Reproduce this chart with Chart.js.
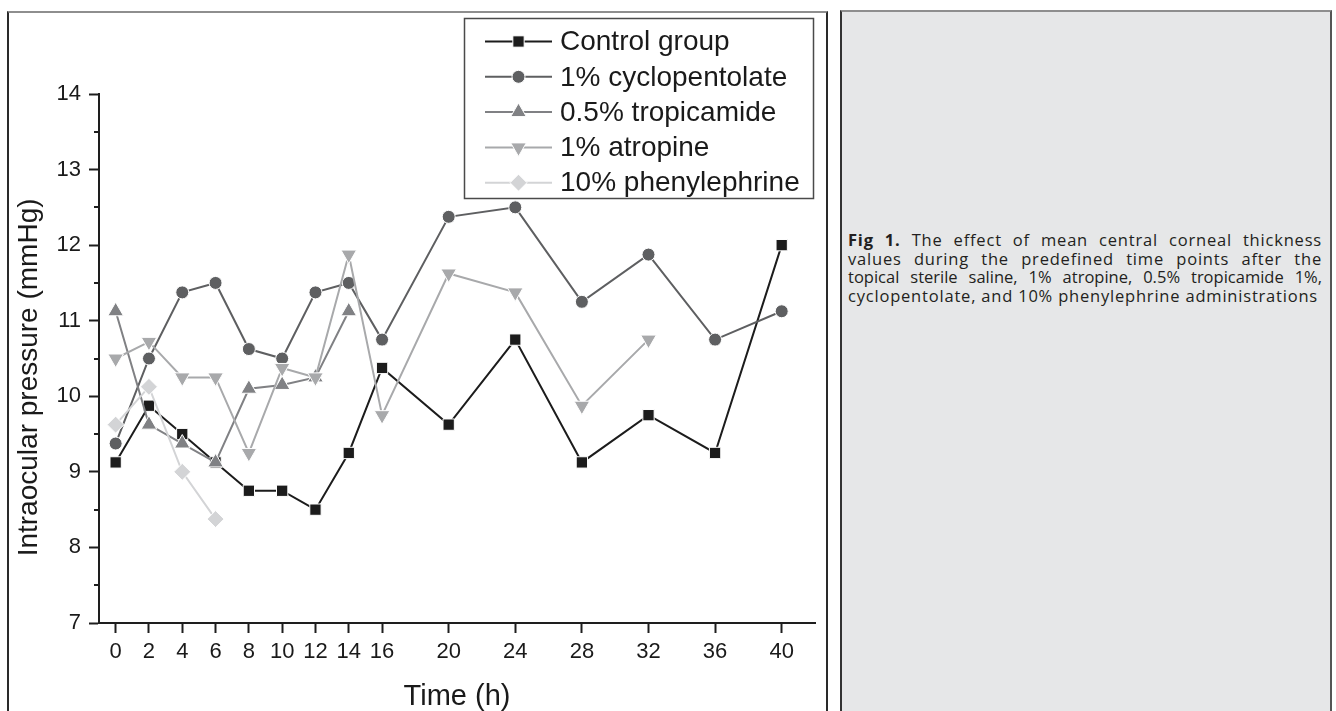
<!DOCTYPE html>
<html lang="en">

<head>
    <meta charset="UTF-8">
    <title>Intraocular pressure over time</title>
    <script src="https://cdn.jsdelivr.net/npm/chart.js"></script>
    <style>
        html, body {
            margin: 0;
            padding: 0;
            width: 1336px;
            height: 711px;
            overflow: hidden;
            background: #ffffff;
        }

        #plot-frame {
            position: absolute;
            left: 7px;
            top: 11px;
            width: 821px;
            height: 730px;
            box-sizing: border-box;
            border-left: 2px solid #2a2a2a;
            border-right: 2px solid #2a2a2a;
            border-top: 2px solid #8e8e8e;
        }

        #iopChart {
            position: absolute;
            left: 9px;
            top: 13px;
        }

        #caption-panel {
            position: absolute;
            left: 840px;
            top: 10px;
            width: 492px;
            height: 730px;
            box-sizing: border-box;
            background: #e6e7e8;
            border-left: 2px solid #333333;
            border-right: 2px solid #555555;
            border-top: 2px solid #8e8e8e;
        }

        .caption {
            position: absolute;
            left: 6px;
            top: 219px;
            width: 474px;
            font-family: "Open Sans", "Noto Sans", sans-serif;
            font-size: 16.5px;
            letter-spacing: 0.8px;
            line-height: 18.5px;
            color: #231f20;
        }

        .caption .j {
            text-align: justify;
            text-align-last: justify;
        }

        .caption div {
            white-space: nowrap;
        }
    </style>
</head>

<body>

    <div id="plot-frame"></div>
    <canvas id="iopChart" width="816" height="710"></canvas>

    <div id="caption-panel">
        <div class="caption">
            <div class="j"><b>Fig 1.</b> The effect of mean central corneal thickness</div>
            <div class="j">values during the predefined time points after the</div>
            <div class="j" style="letter-spacing:0">topical sterile saline, 1% atropine, 0.5% tropicamide 1%,</div>
            <div>cyclopentolate, and 10% phenylephrine administrations</div>
        </div>
    </div>

    <script>
        // time points (h), also used as the x tick values
        const hours = [0, 2, 4, 6, 8, 10, 12, 14, 16, 20, 24, 28, 32, 36, 40];
        const yMinorTicks = [7.5, 8.5, 9.5, 10.5, 11.5, 12.5, 13.5];

        const seriesNames = ['Control group', '1% cyclopentolate', '0.5% tropicamide', '1% atropine', '10% phenylephrine'];

        const control = [9.125, 9.875, 9.5, 9.125, 8.75, 8.75, 8.5, 9.25, 10.375, 9.625, 10.75, 9.125, 9.75, 9.25, 12.0];
        const cyclopentolate = [9.375, 10.5, 11.375, 11.5, 10.625, 10.5, 11.375, 11.5, 10.75, 12.375, 12.5, 11.25, 11.875, 10.75, 11.125];
        const tropicamide = [11.125, 9.625, 9.375, 9.125, 10.1, 10.15, 10.25, 11.125];
        const atropine = [10.5, 10.72, 10.25, 10.25, 9.25, 10.375, 10.25, 11.875, 9.75, 11.625, 11.375, 9.875, 10.75];
        const phenylephrine = [9.625, 10.125, 9.0, 8.375];

        const axisColor = '#1e1e1e';
        const font = '"Liberation Sans", Arial, sans-serif';
        const yTitle = 'Intraocular pressure (mmHg)';

        const styles = [
            { color: '#1c1c1c', pointStyle: 'rect', radius: 8, rotation: 0 },
            { color: '#5e5f61', pointStyle: 'circle', radius: 6.5, rotation: 0 },
            { color: '#808184', pointStyle: 'triangle', radius: 9, rotation: 0 },
            { color: '#a8a9ab', pointStyle: 'triangle', radius: 9, rotation: 180 },
            { color: '#d3d4d6', pointStyle: 'rectRot', radius: 8.5, rotation: 0 }
        ];

        const allValues = [control, cyclopentolate, tropicamide, atropine, phenylephrine];

        const datasets = allValues.map((vals, i) => ({
            label: seriesNames[i],
            data: vals.map((v, k) => ({ x: hours[k], y: v })),
            borderColor: styles[i].color,
            backgroundColor: styles[i].color,
            borderWidth: 2,
            pointStyle: styles[i].pointStyle,
            pointRadius: styles[i].radius,
            pointRotation: styles[i].rotation,
            pointBackgroundColor: styles[i].color,
            pointBorderColor: '#ffffff',
            pointBorderWidth: 1,
            tension: 0,
            order: 5 - i
        }));

        // short minor ticks on the y axis, plus the y title (sits a bit below centre in the original)
        const yAxisExtras = {
            id: 'yAxisExtras',
            afterDraw(chart) {
                const y = chart.scales.y;
                const ctx = chart.ctx;
                ctx.save();
                ctx.strokeStyle = axisColor;
                ctx.lineWidth = 2;
                yMinorTicks.forEach(v => {
                    const py = Math.round(y.getPixelForValue(v));
                    ctx.beginPath();
                    ctx.moveTo(y.right - 5, py);
                    ctx.lineTo(y.right, py);
                    ctx.stroke();
                });
                ctx.translate(20, y.getPixelForValue(10.25));
                ctx.rotate(-Math.PI / 2);
                ctx.font = '28px ' + font;
                ctx.fillStyle = '#1a1a1a';
                ctx.textAlign = 'center';
                ctx.textBaseline = 'middle';
                ctx.fillText(yTitle, 0, 0);
                ctx.restore();
            }
        };

        // legend box with line + marker samples, like the original figure
        const boxLegend = {
            id: 'boxLegend',
            afterDraw(chart) {
                const ctx = chart.ctx;
                ctx.save();
                ctx.strokeStyle = '#4a4a4a';
                ctx.lineWidth = 1.5;
                ctx.strokeRect(455.5, 5.5, 349, 180);
                ctx.font = '28px ' + font;
                ctx.textBaseline = 'middle';
                ctx.textAlign = 'left';
                chart.data.datasets.forEach((ds, i) => {
                    const cy = 28.5 + i * 35.3;
                    ctx.strokeStyle = ds.borderColor;
                    ctx.lineWidth = 2;
                    ctx.beginPath();
                    ctx.moveTo(476, cy);
                    ctx.lineTo(543, cy);
                    ctx.stroke();
                    ctx.fillStyle = ds.pointBackgroundColor;
                    ctx.strokeStyle = '#ffffff';
                    ctx.lineWidth = 1;
                    Chart.helpers.drawPoint(ctx, {
                        pointStyle: ds.pointStyle,
                        radius: ds.pointRadius,
                        rotation: ds.pointRotation,
                        borderWidth: 1
                    }, 509.5, cy);
                    ctx.fillStyle = '#1a1a1a';
                    ctx.fillText(ds.label, 551, cy + 1);
                });
                ctx.restore();
            }
        };

        const ctx = document.getElementById('iopChart').getContext('2d');
        const iopChart = new Chart(ctx, {
            type: 'line',
            data: { datasets: datasets },
            options: {
                responsive: false,
                animation: false,
                layout: {
                    padding: { top: 81, right: 4, left: 0, bottom: 0 }
                },
                plugins: {
                    legend: { display: false },
                    tooltip: { enabled: false }
                },
                scales: {
                    x: {
                        type: 'linear',
                        min: -1,
                        max: 42,
                        afterBuildTicks: scale => {
                            scale.ticks = hours.map(h => ({ value: h }));
                        },
                        afterFit: scale => { scale.height = 100; },
                        grid: {
                            drawOnChartArea: false,
                            drawTicks: true,
                            tickLength: 10,
                            tickWidth: 2,
                            tickColor: axisColor
                        },
                        border: { display: true, color: axisColor, width: 2 },
                        ticks: {
                            color: '#1a1a1a',
                            padding: 6,
                            maxRotation: 0,
                            autoSkip: false,
                            font: { family: font, size: 22 }
                        },
                        title: {
                            display: true,
                            text: 'Time (h)',
                            color: '#1a1a1a',
                            font: { family: font, size: 29 },
                            padding: { top: 0, bottom: 9 }
                        }
                    },
                    y: {
                        min: 7,
                        max: 14,
                        afterFit: scale => { scale.width = 90; },
                        grid: {
                            drawOnChartArea: false,
                            drawTicks: true,
                            tickLength: 10,
                            tickWidth: 2,
                            tickColor: axisColor
                        },
                        border: { display: true, color: axisColor, width: 2 },
                        ticks: {
                            stepSize: 1,
                            color: '#1a1a1a',
                            padding: 8,
                            font: { family: font, size: 22 }
                        },
                        title: { display: false }
                    }
                }
            },
            plugins: [yAxisExtras, boxLegend]
        });
    </script>
</body>

</html>
